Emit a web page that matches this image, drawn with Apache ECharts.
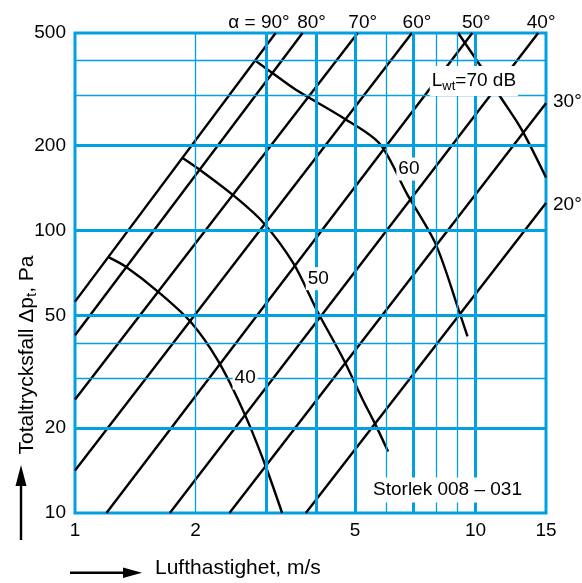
<!DOCTYPE html>
<html>
<head>
<meta charset="utf-8">
<script src="https://cdn.jsdelivr.net/npm/echarts@6/dist/echarts.min.js"></script>
<style>
  html, body { margin: 0; padding: 0; background: #ffffff; }
  #chart { width: 582px; height: 583px; }
</style>
</head>
<body>
<div id="chart"></div>
<script>
// Axis ticks and grid positions (velocity m/s, total pressure drop Pa)
const velocityTicks = [1, 2, 5, 10, 15];
const pressureTicks = [10, 20, 50, 100, 200, 500];
const velocityGridMajor = [3, 4, 5, 7, 10];
const velocityGridMinor = [2, 6, 8, 9];
const pressureGridMajor = [20, 50, 100, 200];
const pressureGridMinor = [30, 40, 300, 400];

// Damper angle lines: start and end point of each straight line (log-log)
const angleLabels = ['α = 90°', '80°', '70°', '60°', '50°', '40°', '30°', '20°'];
const angleStartV = [1, 1, 1, 1, 1.198, 1.725, 2.43, 3.77];
const angleStartP = [56.0, 42.6, 25.2, 14.14, 10, 10, 10, 10];
const angleEndV = [3.17, 3.70, 5.08, 6.94, 9.82, 14.34, 15, 15];
const angleEndP = [500, 500, 500, 500, 500, 500, 282, 125];

// Sound power level curves L_wt (dB)
const level40 = [[1.215, 80.3], [1.337, 74.5], [1.619, 60.4], [1.943, 47.5], [2.275, 34.6], [2.637, 22.8], [2.974, 15.0], [3.29, 10]];
const level50 = [[1.853, 181], [2.037, 165], [2.472, 134], [2.946, 107], [3.508, 76.6], [4.025, 51.9], [4.70, 34.6], [5.20, 25.6], [5.65, 20.3], [6.05, 16.5]];
const level60 = [[2.814, 400], [3.11, 361], [3.57, 314], [4.70, 249], [5.76, 203], [6.76, 134], [7.96, 89.3], [9.13, 51.1], [9.55, 42.2]];
const level70 = [[9.05, 500], [10.40, 374], [11.47, 301], [13.03, 228], [15, 154]];

// Curve labels and where they sit
const levelLabelText = ['40', '50', '60'];
const levelLabelPos = [[2.66, 30], [4.05, 67.5], [6.82, 165]];
const levelTitlePos = [9.91, 338];

const fontFamily = "'Liberation Sans', Arial, Helvetica, sans-serif";
const blue = '#00a0e3';
const ink = '#000000';

// Horizontal nudges of the angle labels relative to their line ends
const angleLabelNudge = [14, 9, 5, 5, 4, 3, 0, 0];

const chart = echarts.init(document.getElementById('chart'), null, { renderer: 'canvas' });

const series = [];

// Blue grid: heavy and light lines
series.push({
  type: 'line',
  data: [],
  silent: true,
  z: 1,
  markLine: {
    silent: true,
    animation: false,
    symbol: ['none', 'none'],
    label: { show: false },
    lineStyle: { color: blue, type: 'solid', width: 1.3 },
    data: [
      ...velocityGridMajor.map(v => ({ xAxis: v, lineStyle: { color: blue, type: 'solid', width: 3 } })),
      ...velocityGridMinor.map(v => ({ xAxis: v, lineStyle: { color: blue, type: 'solid', width: 1.3 } })),
      ...pressureGridMajor.map(p => ({ yAxis: p, lineStyle: { color: blue, type: 'solid', width: 3 } })),
      ...pressureGridMinor.map(p => ({ yAxis: p, lineStyle: { color: blue, type: 'solid', width: 1.3 } }))
    ]
  }
});

// Angle lines with their labels at the far end
angleLabels.forEach((name, i) => {
  const onRight = angleEndV[i] >= 15;
  let endLabel;
  if (onRight) {
    endLabel = { show: true, position: 'right', distance: 7, offset: [0, i === 6 ? -2 : 2], formatter: name };
  } else if (i === 0) {
    endLabel = { show: true, position: 'top', distance: 1, align: 'right', offset: [angleLabelNudge[i], 0], formatter: name };
  } else {
    endLabel = { show: true, position: 'top', distance: 1, offset: [angleLabelNudge[i], 0], formatter: name };
  }
  series.push({
    type: 'line',
    name: name,
    z: 3,
    clip: false,
    symbol: 'circle',
    symbolSize: 0,
    lineStyle: { color: ink, width: 2.4 },
    itemStyle: { color: ink, opacity: 1 },
    label: { show: false, color: ink, fontFamily: fontFamily, fontSize: 19, textBorderWidth: 0 },
    data: [
      [angleStartV[i], angleStartP[i]],
      { value: [angleEndV[i], angleEndP[i]], label: endLabel }
    ]
  });
});

// Sound level curves
[level40, level50, level60, level70].forEach(points => {
  series.push({
    type: 'line',
    z: 3,
    clip: false,
    showSymbol: false,
    smooth: 0.3,
    lineStyle: { color: ink, width: 2.4 },
    data: points
  });
});

// Curve labels with white boxes
series.push({
  type: 'scatter',
  z: 10,
  symbolSize: 0,
  silent: true,
  itemStyle: { color: ink, opacity: 1 },
  label: {
    show: true,
    position: 'inside',
    formatter: '{b}',
    color: ink,
    opacity: 1,
    textBorderWidth: 0,
    fontFamily: fontFamily,
    fontSize: 19,
    backgroundColor: '#ffffff',
    padding: [2, 2]
  },
  data: levelLabelText.map((t, i) => ({ name: t, value: levelLabelPos[i] }))
});

series.push({
  type: 'scatter',
  z: 10,
  symbolSize: 0,
  silent: true,
  itemStyle: { color: ink, opacity: 1 },
  label: {
    show: true,
    position: 'inside',
    formatter: '{a|L}{s|wt}{a|=70 dB}',
    backgroundColor: '#ffffff',
    padding: [4, 2, 4, 2],
    opacity: 1,
    textBorderWidth: 0,
    rich: {
      a: { fontFamily: fontFamily, fontSize: 19, color: ink, lineHeight: 22, textBorderWidth: 0 },
      s: { fontFamily: fontFamily, fontSize: 13, color: ink, lineHeight: 22, padding: [10, 0, 0, 0], textBorderWidth: 0 }
    }
  },
  data: [{ name: 'Lwt', value: levelTitlePos }]
});

const option = {
  animation: false,
  backgroundColor: '#ffffff',
  textStyle: { fontFamily: fontFamily },
  grid: {
    left: 75, right: 36, top: 33, bottom: 70,
    show: true, borderColor: blue, borderWidth: 3, backgroundColor: 'transparent',
    containLabel: false
  },
  xAxis: {
    type: 'log',
    logBase: 10,
    min: 1,
    max: 15,
    axisLine: { show: false },
    axisTick: { show: false },
    splitLine: { show: false },
    minorSplitLine: { show: false },
    axisLabel: {
      customValues: velocityTicks,
      margin: 8,
      color: ink,
      fontFamily: fontFamily,
      fontSize: 19,
      showMinLabel: true,
      showMaxLabel: true,
      formatter: v => String(+Number(v).toPrecision(6))
    }
  },
  yAxis: {
    type: 'log',
    logBase: 10,
    min: 10,
    max: 500,
    axisLine: { show: false },
    axisTick: { show: false },
    splitLine: { show: false },
    minorSplitLine: { show: false },
    axisLabel: {
      customValues: pressureTicks,
      margin: 9,
      color: ink,
      fontFamily: fontFamily,
      fontSize: 19,
      showMinLabel: true,
      showMaxLabel: true,
      formatter: v => String(+Number(v).toPrecision(6))
    }
  },
  graphic: [
    {
      type: 'text',
      z: 100,
      x: 447.5, y: 490,
      style: {
        text: 'Storlek 008 – 031',
        fill: ink,
        font: '19px ' + fontFamily,
        align: 'center',
        verticalAlign: 'middle',
        backgroundColor: '#ffffff',
        padding: [3, 5]
      }
    },
    {
      type: 'text',
      z: 100,
      x: 27, y: 355,
      rotation: Math.PI / 2,
      style: {
        text: '{a|Totaltrycksfall Δp}{s|t}{a|, Pa}',
        align: 'center',
        verticalAlign: 'middle',
        rich: {
          a: { fontFamily: fontFamily, fontSize: 21, fill: ink, lineHeight: 24 },
          s: { fontFamily: fontFamily, fontSize: 15, fill: ink, lineHeight: 24, padding: [10, 0, 0, 0] }
        }
      }
    },
    {
      type: 'text',
      z: 100,
      x: 155, y: 568,
      style: {
        text: 'Lufthastighet, m/s',
        fill: ink,
        font: '21px ' + fontFamily,
        align: 'left',
        verticalAlign: 'middle'
      }
    },
    {
      type: 'line',
      z: 100,
      shape: { x1: 21, y1: 540, x2: 21, y2: 482 },
      style: { stroke: ink, lineWidth: 2.4 }
    },
    {
      type: 'polygon',
      z: 100,
      shape: { points: [[21, 465], [15.5, 486], [26.5, 486]] },
      style: { fill: ink }
    },
    {
      type: 'line',
      z: 100,
      shape: { x1: 70, y1: 572.7, x2: 128, y2: 572.7 },
      style: { stroke: ink, lineWidth: 2.4 }
    },
    {
      type: 'polygon',
      z: 100,
      shape: { points: [[142, 572.7], [123, 567.5], [123, 577.9]] },
      style: { fill: ink }
    }
  ],
  series: series
};

chart.setOption(option);
</script>
</body>
</html>
